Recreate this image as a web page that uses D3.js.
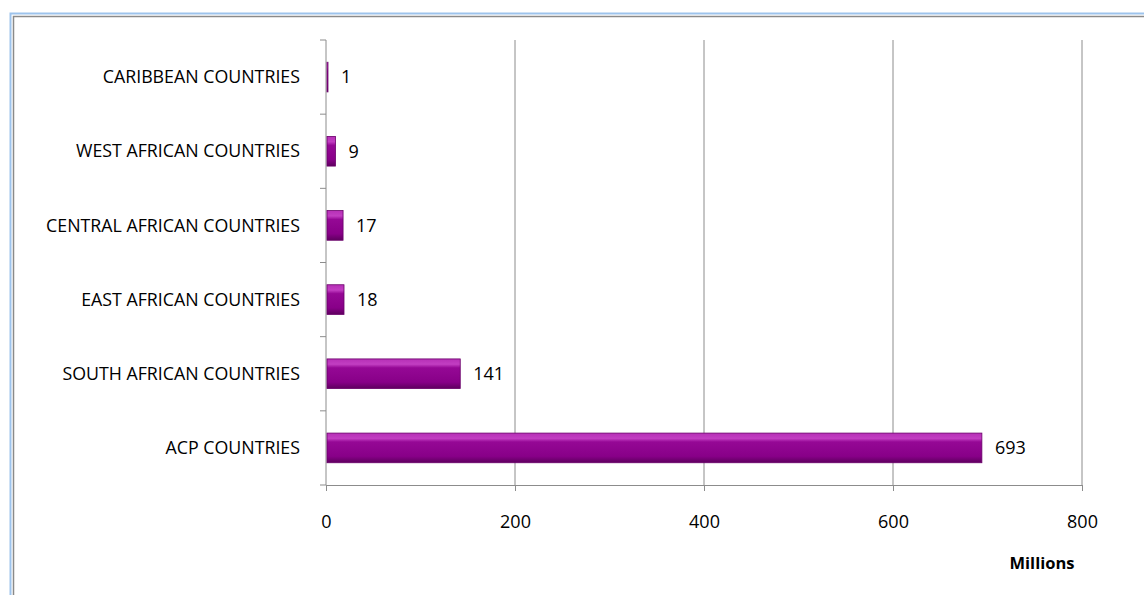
<!DOCTYPE html>
<html>
<head>
<meta charset="utf-8">
<script src="https://cdn.jsdelivr.net/npm/d3@7"></script>
<style>
  body { margin: 0; background: #fff; }
  svg { display: block; font-family: "Open Sans", sans-serif; }
</style>
</head>
<body>
<div id="vis-holder"></div>
<script>
// Data
const regions = ["CARIBBEAN COUNTRIES", "WEST AFRICAN COUNTRIES", "CENTRAL AFRICAN COUNTRIES",
                 "EAST AFRICAN COUNTRIES", "SOUTH AFRICAN COUNTRIES", "ACP COUNTRIES"];
const values = [1, 9, 17, 18, 141, 693];
const xTicks = [0, 200, 400, 600, 800];
const unitLabel = "Millions";

const width = 1144;
const height = 595;
const margin = { top: 40, right: 62, bottom: 110, left: 326 };

const svg = d3.select("#vis-holder")
              .append("svg")
              .attr("width", width)
              .attr("height", height);

// Frame (blue outer, gray inner)
svg.append("path")
   .attr("d", `M10.5,${height} V13.5 H${width}`)
   .attr("fill", "none").attr("stroke", "#9dc3ec").attr("stroke-width", 2);
svg.append("path")
   .attr("d", `M13.5,${height} V16.5 H${width}`)
   .attr("fill", "none").attr("stroke", "#8a8a8a").attr("stroke-width", 1.5);

// Gradient for beveled bars
const defs = svg.append("defs");
const grad = defs.append("linearGradient")
                 .attr("id", "barGrad").attr("x1", 0).attr("x2", 0).attr("y1", 0).attr("y2", 1);
grad.append("stop").attr("offset", "0%").attr("stop-color", "#b62fb6");
grad.append("stop").attr("offset", "18%").attr("stop-color", "#c23ec2");
grad.append("stop").attr("offset", "30%").attr("stop-color", "#950895");
grad.append("stop").attr("offset", "78%").attr("stop-color", "#880088");
grad.append("stop").attr("offset", "100%").attr("stop-color", "#5e005e");

// Scales
const x = d3.scaleLinear()
            .domain([0, 800])
            .range([margin.left, width - margin.right]);

const y = d3.scaleBand()
            .domain(regions)
            .range([margin.top, height - margin.bottom])
            .paddingInner(0.6)
            .paddingOuter(0.3);

const yBottom = height - margin.bottom;

// Gridlines
svg.append("g")
   .selectAll("line")
   .data(xTicks.slice(1))
   .enter()
   .append("line")
   .attr("x1", (d) => x(d)).attr("x2", (d) => x(d))
   .attr("y1", margin.top).attr("y2", yBottom)
   .attr("stroke", "#8c8c8c").attr("stroke-width", 1);

// X axis
svg.append("g")
   .attr("transform", `translate(0,${yBottom})`)
   .call(d3.axisBottom(x).tickValues(xTicks).tickSize(6).tickPadding(24))
   .call((g) => g.select(".domain").attr("stroke", "#8c8c8c"))
   .call((g) => g.selectAll(".tick line").attr("stroke", "#8c8c8c"))
   .call((g) => g.selectAll(".tick text")
                 .attr("font-size", "18px").attr("fill", "#000")
                 .attr("font-family", "Open Sans, sans-serif"));

// Y axis: ticks at band edges
const edges = d3.range(regions.length + 1).map((i) => margin.top + i * (yBottom - margin.top) / regions.length);
svg.append("line")
   .attr("x1", x(0)).attr("x2", x(0))
   .attr("y1", margin.top).attr("y2", yBottom)
   .attr("stroke", "#8c8c8c");
svg.append("g")
   .selectAll("line")
   .data(edges)
   .enter()
   .append("line")
   .attr("x1", x(0) - 6).attr("x2", x(0))
   .attr("y1", (d) => d).attr("y2", (d) => d)
   .attr("stroke", "#8c8c8c");

// Category labels
svg.append("g")
   .selectAll("text")
   .data(regions)
   .enter()
   .append("text")
   .attr("x", x(0) - 26)
   .attr("y", (d) => y(d) + y.bandwidth() / 2)
   .attr("dy", "0.35em")
   .attr("text-anchor", "end")
   .attr("font-size", "17.8px")
   .attr("fill", "#000")
   .text((d) => d);

// Bars
const data = regions.map((r, i) => ({ region: r, value: values[i] }));
svg.append("g")
   .selectAll("rect")
   .data(data)
   .enter()
   .append("rect")
   .attr("x", x(0) + 1)
   .attr("y", (d) => y(d.region))
   .attr("width", (d) => Math.max(1, x(d.value) - x(0)))
   .attr("height", y.bandwidth())
   .attr("fill", "url(#barGrad)")
   .attr("stroke", "#6a006a")
   .attr("stroke-width", 0.8);

// Value labels
svg.append("g")
   .selectAll("text")
   .data(data)
   .enter()
   .append("text")
   .attr("x", (d) => x(d.value) + 14)
   .attr("y", (d) => y(d.region) + y.bandwidth() / 2)
   .attr("dy", "0.35em")
   .attr("font-size", "18px")
   .attr("fill", "#000")
   .text((d) => d.value);

// Unit label
svg.append("text")
   .attr("x", 1042)
   .attr("y", 569)
   .attr("text-anchor", "middle")
   .attr("font-size", "16.5px")
   .attr("font-weight", "bold")
   .attr("fill", "#000")
   .text(unitLabel);
</script>
</body>
</html>
